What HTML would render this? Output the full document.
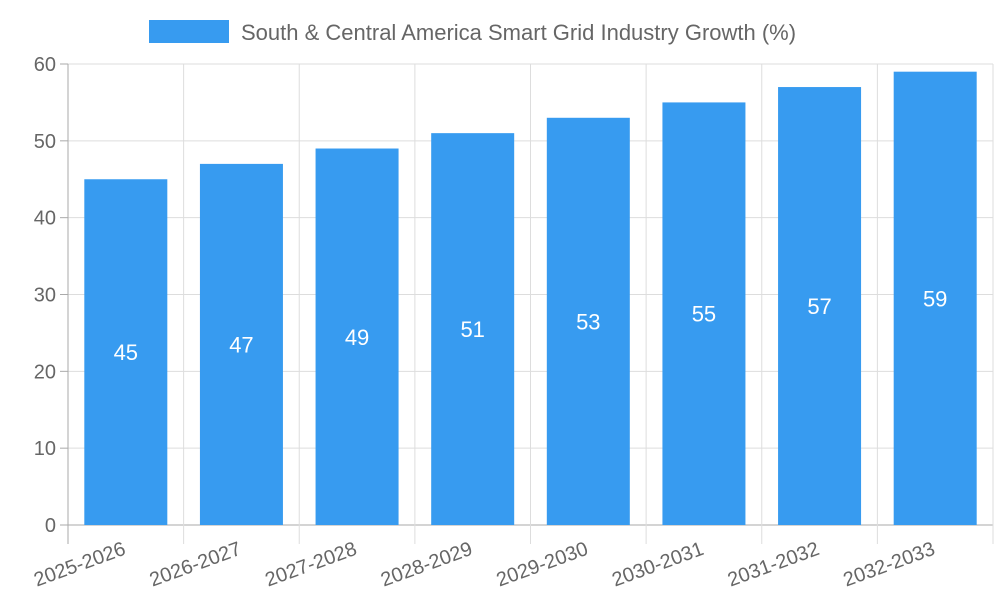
<!DOCTYPE html>
<html><head><meta charset="utf-8"><style>
html,body{margin:0;padding:0;background:#fff;}
svg{display:block;font-family:"Liberation Sans",sans-serif;}
</style></head><body>
<svg id="chart" width="1000" height="600">
<g>
<rect x="149" y="20" width="80" height="23" fill="#379bf0"></rect>
<text x="241" y="40" font-size="22" fill="#666">South &amp; Central America Smart Grid Industry Growth (%)</text>
</g>
<g id="grid"></g>
<g id="bars"></g>
<g id="axes"></g>
</svg>
<script>
const categories=["2025-2026","2026-2027","2027-2028","2028-2029","2029-2030","2030-2031","2031-2032","2032-2033"];
const values=[45,47,49,51,53,55,57,59];
const yTicks=[0,10,20,30,40,50,60];
const NS="http://www.w3.org/2000/svg";
const L=68,R=993,T=64,B=525,yMax=60;
const band=(R-L)/categories.length;
const y=v=>B-(v/yMax)*(B-T);
const xc=i=>L+band*(i+0.5);
function mk(tag,attrs,parent){const e=document.createElementNS(NS,tag);for(const k in attrs)e.setAttribute(k,attrs[k]);parent.appendChild(e);return e;}
const grid=document.getElementById('grid'),bars=document.getElementById('bars'),axes=document.getElementById('axes');
yTicks.forEach(t=>{
 const ln=mk('line',{x1:L,x2:R,y1:y(t),y2:y(t),stroke:t===0?'#aaa':'#ddd','stroke-width':1},grid);
 
 
 const tk=mk('line',{x1:L-8,x2:L,y1:y(t),y2:y(t),stroke:'#aaa'},axes);
 
 
 const tx=mk('text',{x:L-12,y:y(t)+7,'text-anchor':'end','font-size':20,fill:'#666'},axes);
 tx.textContent=t;
 
 
});
for(let i=0;i<=categories.length;i++){
 const gx=L+band*i;
 const ln=mk('line',{x1:gx,x2:gx,y1:T,y2:B+19,stroke:i===0?'#aaa':'#ddd'},grid);
 
 
}
const bw=83;
categories.forEach((c,i)=>{
 const r=mk('rect',{x:xc(i)-bw/2,y:y(values[i]),width:bw,height:B-y(values[i]),fill:'#379bf0'},bars);
 
 
 const v=mk('text',{x:xc(i),y:(y(values[i])+B)/2+8,'text-anchor':'middle','font-size':22,fill:'#fff'},bars);
 v.textContent=values[i];
 
 
 const lx=xc(i)+1,ly=554;
 const t=mk('text',{x:lx,y:ly,'text-anchor':'end','font-size':20,fill:'#666',transform:`rotate(-20 ${lx} ${ly})`},axes);
 t.textContent=c;
 
 
});
const ax=mk('line',{x1:L,x2:L,y1:T,y2:B,stroke:'#aaa'},axes);


</script>
</body></html>
